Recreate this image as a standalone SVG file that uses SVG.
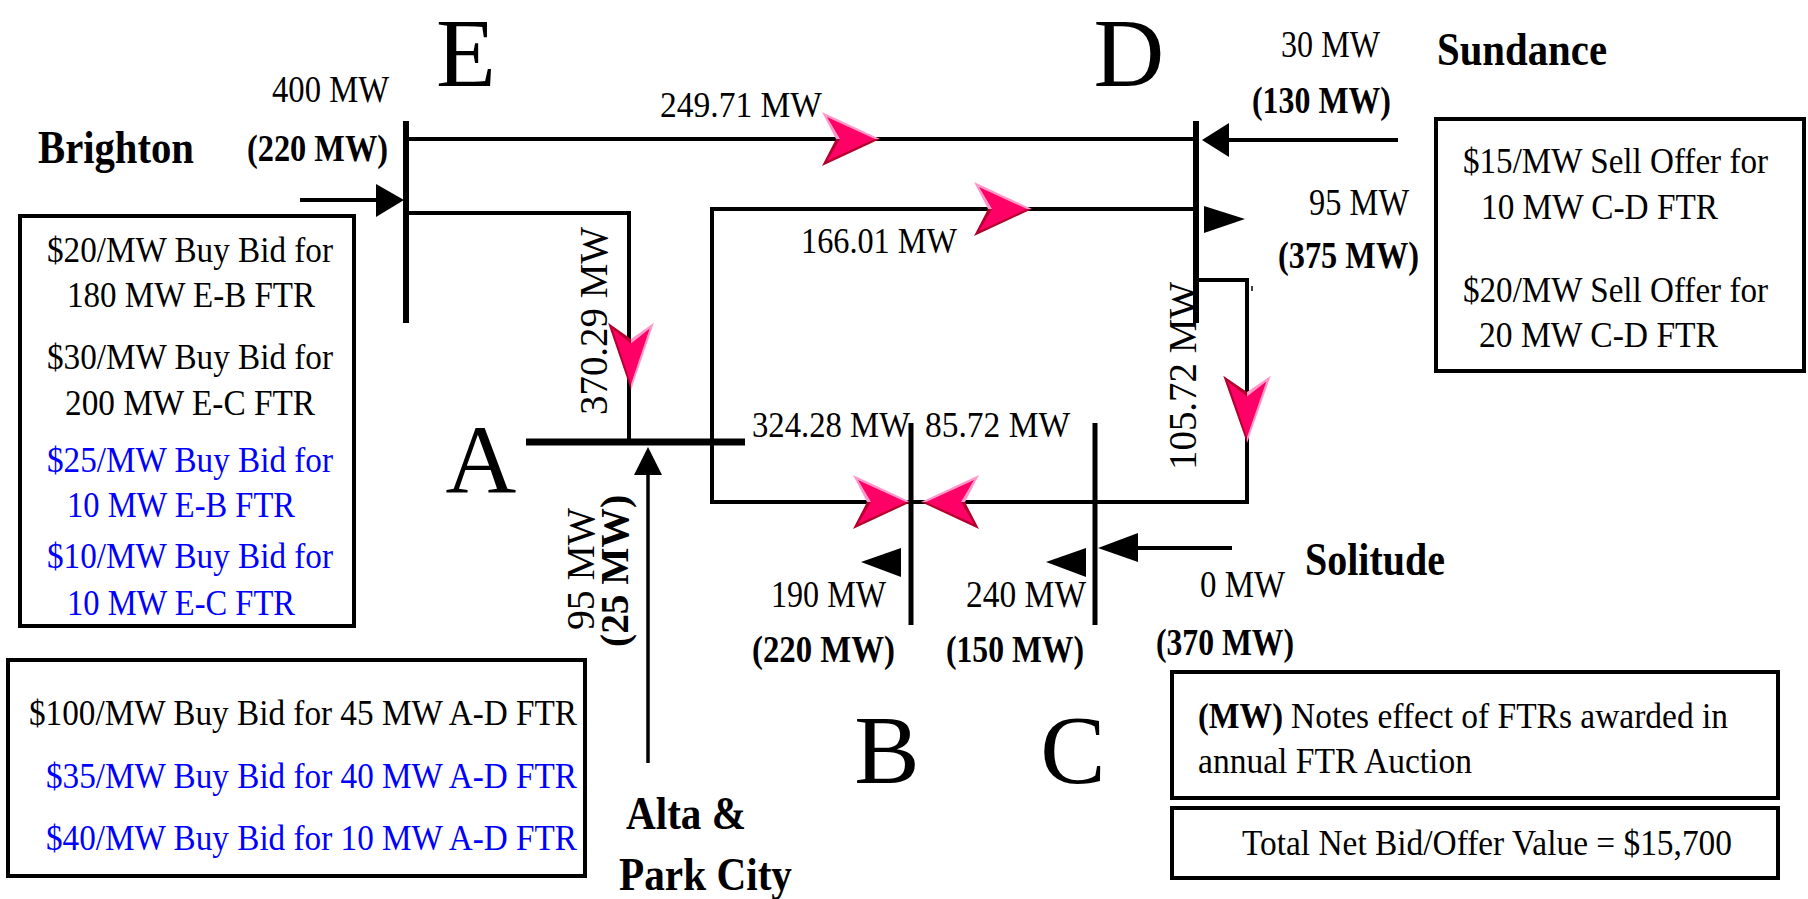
<svg xmlns="http://www.w3.org/2000/svg" xmlns:xlink="http://www.w3.org/1999/xlink" width="1808" height="899" viewBox="0 0 1808 899">
<style>
.t{font-family:"Liberation Serif","Times New Roman",serif;font-size:36px;fill:#000}
.b{font-weight:bold}
.blue{fill:#0000FF}
.big{font-size:98px}
.lbl{font-size:38px}
.site{font-size:46px;font-weight:bold}
.rot{font-size:39px}
.ln{stroke:#000;stroke-width:4;fill:none}
.bus{stroke:#000;stroke-width:6;fill:none}
.box{stroke:#000;stroke-width:4;fill:#fff}
.tri{fill:#000}
</style>
<defs>
<g id="pa">
<polygon points="0,0 -58,-27 -44,0" fill="#FF99CC"/>
<polygon points="0,0 -44,0 -58,27" fill="#B3002D"/>
<polygon points="-5,0 -53,-22 -40,0 -53,22" fill="#FF0066"/>
</g>
</defs>
<rect width="1808" height="899" fill="#fff"/>

<g id="connectors">
<line class="ln" x1="406" y1="139" x2="1195" y2="139"/>
<polyline class="ln" points="406,213 629,213 629,442"/>
<polyline class="ln" points="1195,209 712,209 712,502 1247,502 1247,280 1195,280"/>
<line x1="1252" y1="286" x2="1252" y2="291" stroke="#000" stroke-width="1.5"/>
<line class="ln" x1="300" y1="200" x2="380" y2="200"/>
<line class="ln" x1="1398" y1="140" x2="1225" y2="140"/>
<line class="ln" x1="1232" y1="548" x2="1130" y2="548"/>
<line x1="648" y1="470" x2="648" y2="763" stroke="#000" stroke-width="3.5"/>
<polygon class="tri" points="404,200 376,184 376,217"/>
<polygon class="tri" points="1202,140 1229,123 1229,157"/>
<polygon class="tri" points="1098,548 1138,533 1138,562"/>
<polygon class="tri" points="648,447 634,475 662,475"/>
<polygon class="tri" points="1245,219 1204,206 1204,233"/>
<polygon class="tri" points="861,562 901,548 901,577"/>
<polygon class="tri" points="1046,562 1086,548 1086,577"/>
<use xlink:href="#pa" transform="translate(880,139)"/>
<use xlink:href="#pa" transform="translate(1032,209)"/>
<use xlink:href="#pa" transform="translate(631,390) rotate(90) scale(1.16,0.85)"/>
<use xlink:href="#pa" transform="translate(1247,443) rotate(90) scale(1.16,0.88)"/>
<use xlink:href="#pa" transform="translate(911,502)"/>
<use xlink:href="#pa" transform="translate(921,502) scale(-1,1)"/>
</g>

<g id="bus-E">
<line class="bus" x1="406" y1="121" x2="406" y2="323"/>
<text class="t big" x="466" y="86" text-anchor="middle">E</text>
</g>
<g id="bus-D">
<line class="bus" x1="1196" y1="121" x2="1196" y2="323"/>
<text class="t big" x="1129" y="86" text-anchor="middle">D</text>
</g>
<g id="bus-A">
<line x1="526" y1="442" x2="745" y2="442" stroke="#000" stroke-width="7"/>
<text class="t big" x="481" y="492" text-anchor="middle">A</text>
</g>
<g id="bus-B">
<line x1="911" y1="423" x2="911" y2="625" stroke="#000" stroke-width="5"/>
<text class="t big" x="887" y="783" text-anchor="middle">B</text>
</g>
<g id="bus-C">
<line x1="1095" y1="423" x2="1095" y2="625" stroke="#000" stroke-width="5"/>
<text class="t big" x="1073" y="783" text-anchor="middle">C</text>
</g>

<g id="flow-labels">
<text class="t" x="660" y="117" textLength="162" lengthAdjust="spacingAndGlyphs">249.71 MW</text>
<text class="t" x="801" y="253" textLength="156" lengthAdjust="spacingAndGlyphs">166.01 MW</text>
<text class="t" x="752" y="437" textLength="158" lengthAdjust="spacingAndGlyphs">324.28 MW</text>
<text class="t" x="925" y="437" textLength="145" lengthAdjust="spacingAndGlyphs">85.72 MW</text>
<text class="t rot" transform="translate(607,321) rotate(-90)" text-anchor="middle" textLength="188" lengthAdjust="spacingAndGlyphs">370.29 MW</text>
<text class="t rot" transform="translate(1196,376) rotate(-90)" text-anchor="middle" textLength="188" lengthAdjust="spacingAndGlyphs">105.72 MW</text>
</g>

<g id="gen-Brighton">
<text class="t site" x="38" y="163" textLength="156" lengthAdjust="spacingAndGlyphs">Brighton</text>
<text class="t lbl" x="272" y="102" textLength="117" lengthAdjust="spacingAndGlyphs">400 MW</text>
<text class="t lbl b" x="247" y="161" textLength="141" lengthAdjust="spacingAndGlyphs">(220 MW)</text>
</g>
<g id="gen-Sundance">
<text class="t site" x="1437" y="65" textLength="170" lengthAdjust="spacingAndGlyphs">Sundance</text>
<text class="t lbl" x="1281" y="57" textLength="99" lengthAdjust="spacingAndGlyphs">30 MW</text>
<text class="t lbl b" x="1252" y="113" textLength="139" lengthAdjust="spacingAndGlyphs">(130 MW)</text>
</g>
<g id="load-D">
<text class="t lbl" x="1309" y="215" textLength="100" lengthAdjust="spacingAndGlyphs">95 MW</text>
<text class="t lbl b" x="1278" y="268" textLength="141" lengthAdjust="spacingAndGlyphs">(375 MW)</text>
</g>
<g id="load-B">
<text class="t lbl" x="771" y="607" textLength="115" lengthAdjust="spacingAndGlyphs">190 MW</text>
<text class="t lbl b" x="752" y="662" textLength="143" lengthAdjust="spacingAndGlyphs">(220 MW)</text>
</g>
<g id="load-C">
<text class="t lbl" x="966" y="607" textLength="120" lengthAdjust="spacingAndGlyphs">240 MW</text>
<text class="t lbl b" x="946" y="662" textLength="138" lengthAdjust="spacingAndGlyphs">(150 MW)</text>
</g>
<g id="gen-Solitude">
<text class="t site" x="1305" y="575" textLength="140" lengthAdjust="spacingAndGlyphs">Solitude</text>
<text class="t lbl" x="1200" y="597" textLength="85" lengthAdjust="spacingAndGlyphs">0 MW</text>
<text class="t lbl b" x="1156" y="655" textLength="138" lengthAdjust="spacingAndGlyphs">(370 MW)</text>
</g>
<g id="gen-Alta">
<text class="t site" x="626" y="829" textLength="120" lengthAdjust="spacingAndGlyphs">Alta &amp;</text>
<text class="t site" x="619" y="890" textLength="173" lengthAdjust="spacingAndGlyphs">Park City</text>
<text class="t rot" transform="translate(594,569) rotate(-90)" text-anchor="middle" textLength="122" lengthAdjust="spacingAndGlyphs">95 MW</text>
<text class="t rot b" transform="translate(628,571) rotate(-90)" text-anchor="middle" textLength="152" lengthAdjust="spacingAndGlyphs">(25 MW)</text>
</g>

<g id="box-E-bids">
<rect class="box" x="20" y="216" width="334" height="410"/>
<text class="t" x="47" y="262" textLength="286" lengthAdjust="spacingAndGlyphs">$20/MW Buy Bid for</text>
<text class="t" x="67" y="307" textLength="248" lengthAdjust="spacingAndGlyphs">180 MW E-B FTR</text>
<text class="t" x="47" y="369" textLength="286" lengthAdjust="spacingAndGlyphs">$30/MW Buy Bid for</text>
<text class="t" x="65" y="415" textLength="250" lengthAdjust="spacingAndGlyphs">200 MW E-C FTR</text>
<text class="t blue" x="47" y="472" textLength="286" lengthAdjust="spacingAndGlyphs">$25/MW Buy Bid for</text>
<text class="t blue" x="67" y="517" textLength="228" lengthAdjust="spacingAndGlyphs">10 MW E-B FTR</text>
<text class="t blue" x="47" y="568" textLength="286" lengthAdjust="spacingAndGlyphs">$10/MW Buy Bid for</text>
<text class="t blue" x="67" y="615" textLength="228" lengthAdjust="spacingAndGlyphs">10 MW E-C FTR</text>
</g>
<g id="box-A-bids">
<rect class="box" x="8" y="660" width="577" height="216"/>
<text class="t" x="29" y="725" textLength="548" lengthAdjust="spacingAndGlyphs">$100/MW Buy Bid for 45 MW A-D FTR</text>
<text class="t blue" x="46" y="788" textLength="531" lengthAdjust="spacingAndGlyphs">$35/MW Buy Bid for 40 MW A-D FTR</text>
<text class="t blue" x="46" y="850" textLength="531" lengthAdjust="spacingAndGlyphs">$40/MW Buy Bid for 10 MW A-D FTR</text>
</g>
<g id="box-D-offers">
<rect class="box" x="1436" y="119" width="368" height="252"/>
<text class="t" x="1463" y="173" textLength="305" lengthAdjust="spacingAndGlyphs">$15/MW Sell Offer for</text>
<text class="t" x="1481" y="219" textLength="237" lengthAdjust="spacingAndGlyphs">10 MW C-D FTR</text>
<text class="t" x="1463" y="302" textLength="305" lengthAdjust="spacingAndGlyphs">$20/MW Sell Offer for</text>
<text class="t" x="1479" y="347" textLength="239" lengthAdjust="spacingAndGlyphs">20 MW C-D FTR</text>
</g>
<g id="box-notes">
<rect class="box" x="1172" y="672" width="606" height="126"/>
<text class="t b" x="1198" y="728" textLength="85" lengthAdjust="spacingAndGlyphs">(MW)</text>
<text class="t" x="1291" y="728" textLength="437" lengthAdjust="spacingAndGlyphs">Notes effect of FTRs awarded in</text>
<text class="t" x="1198" y="773" textLength="274" lengthAdjust="spacingAndGlyphs">annual FTR Auction</text>
</g>
<g id="box-total">
<rect class="box" x="1172" y="808" width="606" height="70"/>
<text class="t" x="1242" y="855" textLength="490" lengthAdjust="spacingAndGlyphs">Total Net Bid/Offer Value = $15,700</text>
</g>
</svg>
